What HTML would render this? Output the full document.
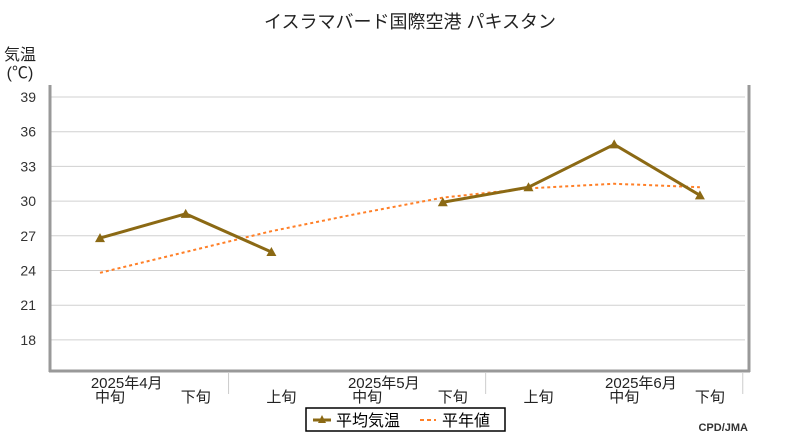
<!DOCTYPE html>
<html><head><meta charset="utf-8"><style>
body{margin:0;background:#fff;}
svg text{font-family:"Liberation Sans","Noto Sans CJK JP",sans-serif;}
</style></head><body>
<svg id="c" width="800" height="440" xmlns="http://www.w3.org/2000/svg">
<text x="410" y="28" font-size="18" text-anchor="middle" fill="#222">イスラマバード国際空港  パキスタン</text>
<text x="20" y="60" font-size="16" text-anchor="middle" fill="#222">気温</text>
<text x="20" y="78" font-size="16" text-anchor="middle" fill="#222">(℃)</text>
<g id="grid"></g><g id="axes"></g><g id="series"></g>
<g>
<rect x="306" y="408" width="199" height="23" fill="#fff" stroke="#000" stroke-width="1.5"/>
<line x1="313" y1="420" x2="331" y2="420" stroke="#8B6914" stroke-width="3"/>
<polygon points="322,415 326,423 318,423" fill="#8B6914"/>
<text x="336" y="426" font-size="16" fill="#000">平均気温</text>
<line x1="420" y1="420" x2="436" y2="420" stroke="#FF7F27" stroke-width="2" stroke-dasharray="4,3"/>
<text x="442" y="426" font-size="16" fill="#000">平年値</text>
</g>
<text x="748" y="431" font-size="11" font-weight="bold" text-anchor="end" fill="#333">CPD/JMA</text>
</svg>
<script>
const categories=["中旬","下旬","上旬","中旬","下旬","上旬","中旬","下旬"];
const months=["2025年4月","2025年5月","2025年6月"];
const meanTemp=[26.8,28.9,25.6,null,29.9,31.2,34.9,30.5];
const normalTemp=[23.8,25.6,27.4,28.9,30.3,31.1,31.5,31.2];
const yTicks=[18,21,24,27,30,33,36,39];
const NS="http://www.w3.org/2000/svg";
function x(i){return 100+i*85.7;}
function y(v){return 97+(39-v)*34.7/3;}
function mk(tag,attrs,parent){const e=document.createElementNS(NS,tag);for(const k in attrs)e.setAttribute(k,attrs[k]);parent.appendChild(e);return e;}
const grid=document.getElementById('grid'),axes=document.getElementById('axes'),ser=document.getElementById('series');
yTicks.forEach(t=>{
 const l=mk('line',{x1:50,x2:745,y1:y(t),y2:y(t),stroke:'#d0d0d0','stroke-width':1},grid);
 
 
 const tx=mk('text',{x:36,y:y(t)+5,'font-size':14,'text-anchor':'end',fill:'#333'},axes);
 tx.textContent=t;
 
 
});
mk('line',{x1:50,x2:50,y1:85,y2:372,stroke:'#999','stroke-width':3},axes);
mk('line',{x1:749,x2:749,y1:85,y2:372,stroke:'#999','stroke-width':3},axes);
mk('line',{x1:49,x2:750,y1:371,y2:371,stroke:'#999','stroke-width':3},axes);
[1.5,4.5,7.5].forEach(p=>mk('line',{x1:x(p),x2:x(p),y1:372,y2:394,stroke:'#ccc','stroke-width':1},axes));
categories.forEach((c,i)=>{
 const t=mk('text',{x:x(i)+10,y:402,'font-size':15,'text-anchor':'middle',fill:'#222'},axes);
 t.textContent=c;
 
 
});
months.forEach((m,j)=>{
 const t=mk('text',{x:x(j*3+0.3)+1,y:388,'font-size':15,'text-anchor':'middle',fill:'#222'},axes);
 t.textContent=m;
 
 
});
let d='';normalTemp.forEach((v,i)=>{if(v!=null)d+=(d?'L':'M')+x(i)+','+y(v);});
const nl=mk('path',{d:d,fill:'none',stroke:'#FF7F27','stroke-width':2,'stroke-dasharray':'3,3'},ser);


let md='';let prev=false;
meanTemp.forEach((v,i)=>{if(v==null){prev=false;return;}md+=(prev?'L':'M')+x(i)+','+y(v);prev=true;});
const ml=mk('path',{d:md,fill:'none',stroke:'#8B6914','stroke-width':3},ser);


meanTemp.forEach((v,i)=>{if(v==null)return;
 const px=x(i),py=y(v);
 const p=mk('polygon',{points:`${px},${py-5} ${px+5},${py+4} ${px-5},${py+4}`,fill:'#8B6914'},ser);
 
 
});
</script>
</body></html>
